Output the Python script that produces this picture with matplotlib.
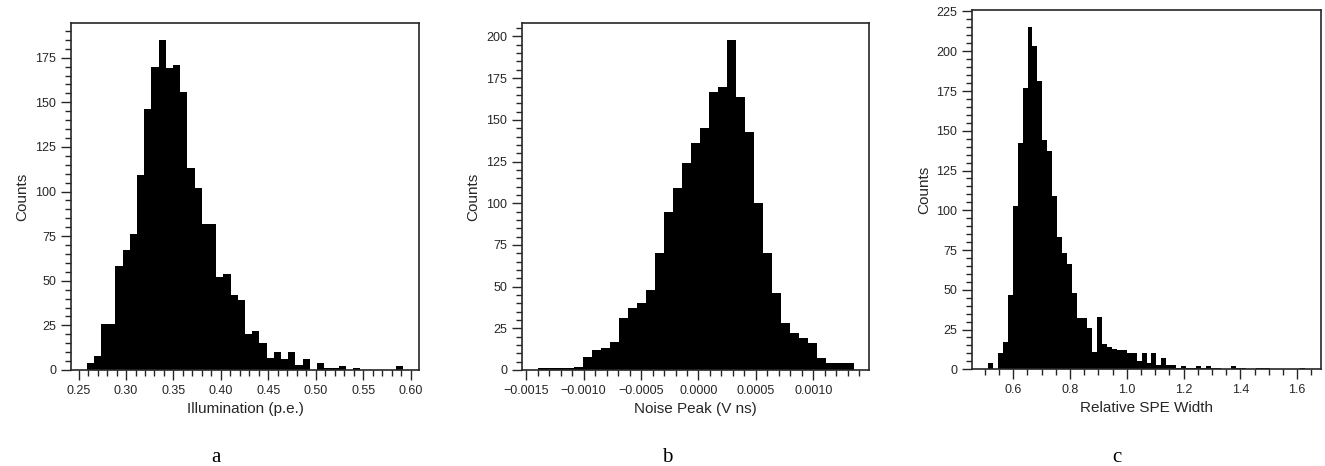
import numpy as np
import matplotlib
matplotlib.use("Agg")
import matplotlib.pyplot as plt
from matplotlib.ticker import AutoMinorLocator, MultipleLocator

plt.rcParams['font.family'] = ['Liberation Sans', 'DejaVu Sans']

# ---- data ----
# (a) Illumination, 44 bins
illum_range = (0.2584, 0.5924)
illum_counts = [4, 8, 26, 26, 58, 67, 76, 109, 146, 170, 185, 169, 171, 156,
                113, 102, 82, 82, 52, 54, 42, 39, 20, 22, 15, 7, 10, 6, 10, 3,
                6, 0, 4, 1, 1, 2, 0, 1, 0, 0, 0, 0, 0, 2]

# (b) Noise peak, 35 bins
noise_range = (-0.001402, 0.001350)
noise_counts = [1, 1, 1, 1, 2, 8, 12, 13, 17, 31, 37, 40, 48, 70, 95, 109,
                124, 136, 145, 167, 170, 198, 164, 143, 100, 70, 46, 28, 22,
                19, 16, 7, 4, 4, 4]

# (c) Relative SPE width, 64 bins
spe_range = (0.511, 1.628)
spe_counts = [4, 0, 10, 17, 47, 103, 142, 177, 215, 203, 181, 144, 137, 109,
              83, 73, 66, 48, 32, 32, 26, 11, 33, 16, 14, 13, 12, 12, 10, 10,
              5, 10, 4, 10, 3, 7, 3, 3, 1, 2, 1, 1, 2, 1, 2, 1, 1, 0, 0, 2,
              1, 1, 0, 0, 1, 1, 1, 0, 0, 0, 0, 0, 0, 1]

panels = [
    ("Illumination (p.e.)", illum_range, illum_counts, 0.05, "a"),
    ("Noise Peak (V ns)", noise_range, noise_counts, 0.0005, "b"),
    ("Relative SPE Width", spe_range, spe_counts, 0.2, "c"),
]

W, H = 1325, 466
fig = plt.figure(figsize=(W / 100, H / 100), dpi=100)

# axes boxes in pixels: left, right, top, bottom
boxes = [(70.7, 419.3, 23.3, 370.0),
         (521.7, 869.3, 23.3, 370.0),
         (972.0, 1321.0, 10.3, 369.3)]
letter_x = [216, 667, 1117]

dark = '#262626'
for (xlabel, rng, counts, xstep, letter), (l, r, t, b), lx in zip(panels, boxes, letter_x):
    ax = fig.add_axes([l / W, (H - b) / H, (r - l) / W, (b - t) / H])
    edges = np.linspace(rng[0], rng[1], len(counts) + 1)
    ax.stairs(counts, edges, fill=True, color='black')
    ax.set_xlabel(xlabel, fontsize=11, color=dark)
    ax.set_ylabel("Counts", fontsize=11, color=dark)
    ax.xaxis.set_major_locator(MultipleLocator(xstep))
    ax.yaxis.set_major_locator(MultipleLocator(25))
    ax.xaxis.set_minor_locator(AutoMinorLocator())
    ax.yaxis.set_minor_locator(AutoMinorLocator())
    ax.tick_params(which='major', direction='out', length=7, width=1.0,
                   labelsize=9, color=dark, labelcolor=dark)
    ax.tick_params(which='minor', direction='out', length=4, width=1.0, color=dark)
    for s in ax.spines.values():
        s.set_color(dark)
        s.set_linewidth(1.2)
    fig.text(lx / W, 1 - 458 / H, letter, ha='center', va='center',
             fontsize=15, family=['Liberation Serif', 'DejaVu Serif'])

fig.savefig("out.png", dpi=100)
